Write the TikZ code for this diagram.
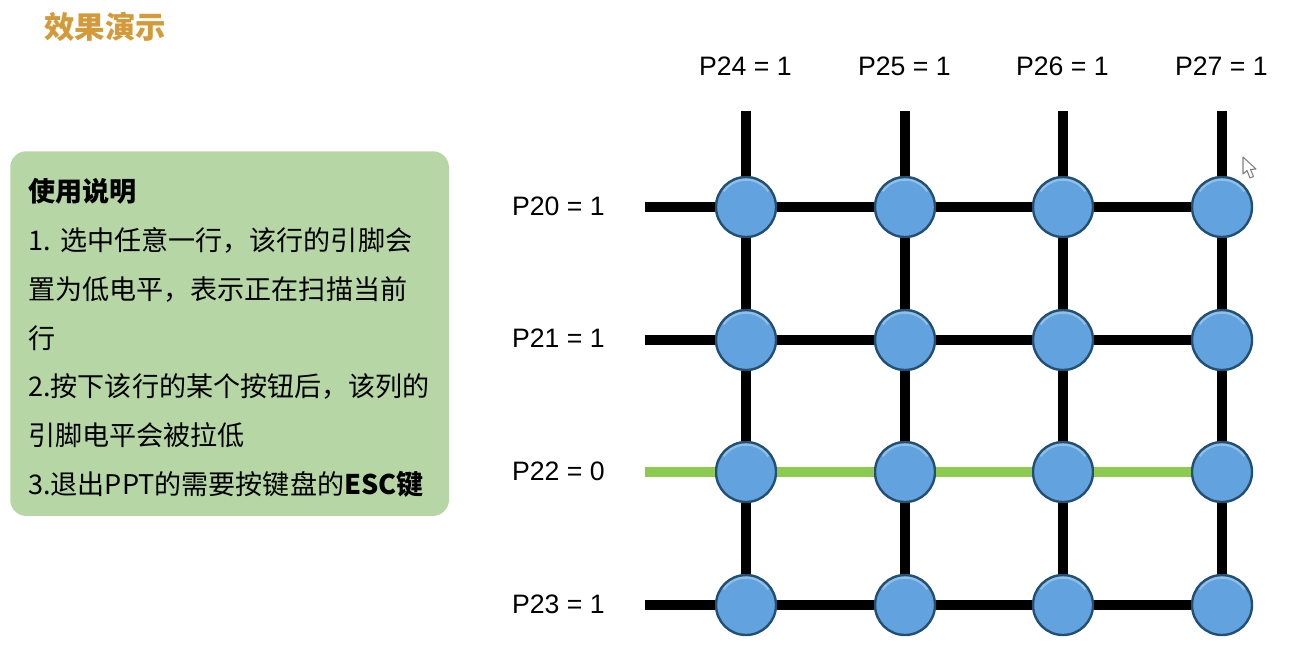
\documentclass[tikz,border=0pt]{standalone}
\usepackage{fontspec}
\setmainfont{Noto Sans CJK SC}
\newfontfamily\latinfont{Liberation Sans}
\usetikzlibrary{positioning}
\definecolor{keyblue}{HTML}{62A3DF}
\definecolor{keyedge}{HTML}{234F73}
\definecolor{keyglow}{HTML}{8FC0EA}
\definecolor{lowgreen}{HTML}{8CCB50}
\definecolor{boxgreen}{HTML}{B6D7A5}
\definecolor{titleorange}{HTML}{D49A3A}
\tikzset{
  keynode/.style={circle,draw=keyedge,line width=1.8pt,fill=keyblue,minimum size=45pt,inner sep=0pt,
    path picture={\draw[keyglow,line width=1.8pt] (path picture bounding box.center) ++(145:20.6pt) arc (145:35:20.6pt);}},
  wire/.style={line width=8.2pt,black},
  lowwire/.style={line width=8.2pt,lowgreen},
  pinlabel/.style={font=\latinfont\fontsize{20}{24}\selectfont,inner sep=0pt},
}
\begin{document}
\begin{tikzpicture}[x=0.75pt,y=-0.75pt]
\useasboundingbox (0,0) rectangle (1291,671);
\node[anchor=west,inner sep=0pt,text=titleorange,font=\fontsize{22.8}{26}\selectfont\bfseries] (title) at (44,27) {效果演示};
% usage box
\node[anchor=north west,fill=boxgreen,rounded corners=12pt,minimum width=329pt,minimum height=273.5pt,
  inner xsep=13.5pt,inner ysep=12pt,align=left,text width=302pt,font=\fontsize{20.3}{36.6}\selectfont] (usage) at (10,151)
  {\rule{0pt}{24pt}\textbf{使用说明}\\
   1.\hspace{0.35em}选中任意一行，该行的引脚会\\
   置为低电平，表示正在扫描当前\\
   行\\
   2.按下该行的某个按钮后，该列的\\
   引脚电平会被拉低\\
   3.退出PPT的需要按键盘的\textbf{ESC键}};
% keys
\foreach \c/\x in {1/746,2/905,3/1063,4/1222}
  \foreach \r/\y in {1/207,2/340,3/472,4/605}
    \node[keynode] (k\r\c) at (\x,\y) {};
% labels
\foreach \c/\n in {1/24,2/25,3/26,4/27}
  \node[pinlabel,above=105.75pt of k1\c.center,anchor=center,xshift=-0.5pt] (col\c) {P\n\ = 1};
\foreach \r/\n/\v in {1/20/1,2/21/1,3/22/0,4/23/1}
  \node[pinlabel,anchor=east] (row\r) at (605,{206+(\r-1)*132.67}) {P\n\ = \v};
% free wire ends
\foreach \c in {1,2,3,4}
  \coordinate[above=72pt of k1\c.center] (top\c);
\foreach \r in {1,2,3,4}
  \coordinate[left=76pt of k\r1.center] (left\r);
% columns
\foreach \c in {1,2,3,4}{
  \draw[wire] (top\c) -- (k1\c);
  \draw[wire] (k1\c) -- (k2\c);
  \draw[wire] (k2\c) -- (k3\c);
  \draw[wire] (k3\c) -- (k4\c);
}
% rows
\foreach \r/\s in {1/wire,2/wire,3/lowwire,4/wire}{
  \draw[\s] (left\r) -- (k\r1);
  \draw[\s] (k\r1) -- (k\r2);
  \draw[\s] (k\r2) -- (k\r3);
  \draw[\s] (k\r3) -- (k\r4);
}
% mouse cursor
\draw[fill=white,draw=gray,line width=0.8pt,line join=round] (1243,157) -- (1243,174) -- (1247,170.5) -- (1250,178) -- (1253.5,176.5) -- (1250.5,169.5) -- (1256,169) -- cycle;
\end{tikzpicture}
\end{document}
